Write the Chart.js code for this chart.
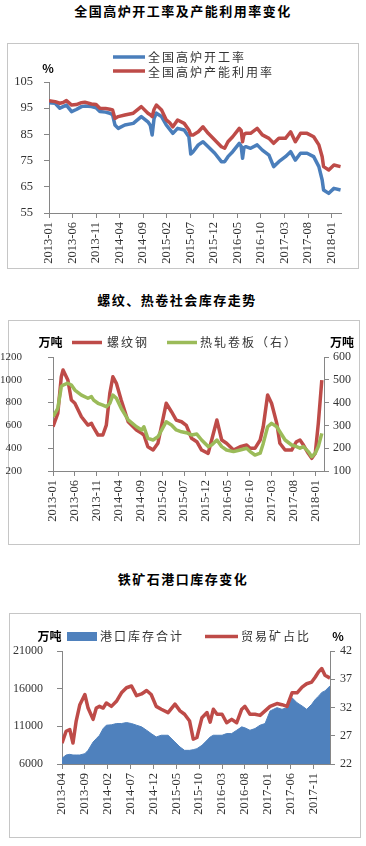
<!DOCTYPE html>
<html>
<head>
<meta charset="utf-8">
<script src="https://cdn.jsdelivr.net/npm/chart.js@4.4.1/dist/chart.umd.min.js"></script>
<style>
body{margin:0;width:366px;height:846px;background:#fff;position:relative;overflow:hidden;font-family:"Noto Sans CJK SC",sans-serif;}
.title{position:absolute;left:0;width:366px;text-align:center;font-weight:bold;font-size:13px;letter-spacing:1.5px;color:#000;line-height:16px;}
.frame{position:absolute;border:1px solid #c6c6c6;}
canvas{position:absolute;left:0;}
</style>
</head>
<body>
<div class="title" style="top:3px">全国高炉开工率及产能利用率变化</div>
<div class="frame" style="left:7px;top:43px;width:350px;height:224px"></div>
<canvas id="chart1" width="366" height="224" style="top:44px"></canvas>

<div class="title" style="top:292px;left:-6px">螺纹、热卷社会库存走势</div>
<div class="frame" style="left:8px;top:320px;width:350px;height:223px"></div>
<canvas id="chart2" width="366" height="223" style="top:321px"></canvas>

<div class="title" style="top:571px">铁矿石港口库存变化</div>
<div class="frame" style="left:9px;top:613px;width:350px;height:223px"></div>
<canvas id="chart3" width="366" height="223" style="top:614px"></canvas>

<script>
// ---- 图1: 全国高炉开工率 / 产能利用率 (月序号, 0 = 2013-01)
var months1 = [0,1.3,2.3,3,3.7,4.8,5.8,6.9,7.6,9,
  10,10.8,12,12.9,13.5,14,14.7,16.1,17.9,19.6,
  21,21.5,21.9,22.3,22.8,23.9,24.9,25.6,26.3,27.3,
  28.7,29.7,30.1,30.6,31.7,32.7,33.8,35.2,36.6,37.3,
  38,39,40.4,40.8,41.1,41.4,41.8,42.8,44.2,45.3,
  46.7,47.7,48.8,50.2,51.3,52.3,53.4,54.8,56.2,57.3,
  58,58.3,59.4,60.5,61.9]
var kaigonglv = [97.1,96.9,95.0,95.6,96.2,93.7,94.5,95.6,95.8,95.6,
  95.2,93.7,93.5,93.1,92.5,88.6,87.3,88.6,89.2,91.8,
  89.8,88.5,84.8,91.0,93.1,91.8,88.6,87.0,85.4,87.3,
  86.7,84.1,77.5,78.4,81.0,82.2,80.3,77.8,74.6,74.6,
  76.5,78.4,81.6,80.5,75.9,80.0,80.3,79.7,81.0,79.0,
  77.1,72.7,74.6,76.5,78.4,75.2,77.8,77.8,76.5,72.7,
  67.6,63.8,62.5,64.4,63.8]
var channeng = [97.9,97.5,96.9,97.2,97.9,96.2,96.4,97.1,97.3,96.6,
  96.4,95.0,94.9,94.6,94.3,91.1,91.8,92.4,93.1,95.6,
  93.1,92.5,91.8,94.5,96.2,94.3,90.5,89.5,87.9,90.5,
  89.2,86.7,84.8,84.8,86.0,87.9,85.4,82.9,80.3,79.7,
  82.2,84.1,87.3,86.5,82.2,85.0,85.4,85.4,87.3,84.8,
  83.5,81.6,83.5,83.5,86.0,82.2,85.4,85.4,84.1,81.0,
  76.5,72.7,71.4,73.3,72.7]

// ---- 图2: 螺纹钢 / 热轧卷板 社会库存 (月序号, 0 = 2013-01)
var months2 = [0,1.1,1.9,2.3,3.4,4.2,5.0,6.5,8.0,8.8,
  9.3,10.3,11.4,12.2,13.0,13.7,14.5,15.6,17.2,19.1,
  20.3,20.8,21.7,22.9,24.0,25.9,27.1,28.2,29.4,30.5,
  31.7,32.9,34.0,35.5,36.3,37.5,38.6,39.7,41.3,42.8,
  44.3,45.1,46.2,47.4,48.1,49.1,50.0,51.2,51.9,53.1,
  54.6,55.7,56.5,57.3,58.4,59.2,60.0,60.7,61.5]
var luowengang = [588,706,1027,1086,998,823,794,676,603,618,
  580,516,516,603,881,1027,969,823,632,559,
  530,516,413,384,443,794,720,647,632,600,
  487,457,384,355,472,647,472,443,384,413,
  428,399,399,472,588,867,794,618,443,384,
  384,457,472,428,355,311,355,618,998]
var rezhajuanban = [338,375,470,477,485,477,455,433,419,426,
  411,397,389,382,397,433,419,375,324,294,
  280,294,243,236,250,316,302,280,272,268,
  258,262,236,207,214,236,207,192,185,192,
  200,185,170,178,221,294,309,294,272,236,
  214,207,200,207,185,163,178,207,265]

// ---- 图3: 港口库存合计 / 贸易矿占比 (月序号, 0 = 2013-04)
var months3 = [0,0.9,1.7,2.4,3.1,3.9,5.0,5.7,6.8,7.5,
  8.2,9.0,9.7,10.8,11.9,13.0,14.1,15.2,16.3,17.4,
  18.5,19.5,20.6,21.7,23.2,24.7,25.8,26.8,27.9,28.7,
  29.5,30.6,31.7,32.4,33.1,33.9,35.0,36.0,37.1,38.2,
  39.3,40.0,41.1,42.2,43.3,44.4,45.5,47.0,48.1,49.2,
  50.3,51.4,52.5,53.5,54.6,55.4,56.1,56.8,57.5,58.6]
var gangkoukucun = [6756,7194,7283,7194,7194,7194,7372,7814,8920,9370,
  9815,10700,11150,11200,11370,11370,11500,11370,11150,10930,
  10480,10040,9590,9815,9815,8920,8257,7814,7814,7900,
  8035,8478,9141,9590,9815,9815,9815,10040,10040,10480,
  10930,10800,10480,10700,11150,11370,13040,13480,13260,13480,
  14800,14130,13700,13260,13920,14600,15000,15500,15700,16370]
var maoyikuang = [25.7,27.8,28.1,25.7,29.6,32.5,34.3,31.9,29.9,31.9,
  32.2,31.9,32.8,32.2,33.1,34.6,35.5,35.8,34.1,34.4,
  35.0,34.3,32.2,31.7,31.1,32.6,31.4,30.8,29.6,26.4,
  26.7,30.2,31.1,29.4,31.7,30.8,30.8,29.3,29.9,29.3,
  31.7,32.2,30.8,30.8,30.6,31.4,32.2,32.7,32.5,32.2,
  34.6,34.6,35.6,36.2,36.5,37.4,38.3,38.9,37.7,37.2]

var axisColor = '#868686'
var tickFont = { family: 'Liberation Serif', size: 12.5 }
var textColor = '#333'

function pts(xs, ys) {
  return xs.map(function (m, i) { return { x: m, y: ys[i] } })
}

function monthLabel(startYear, startMonth) {
  return function (v) {
    var t = startYear * 12 + startMonth - 1 + v
    var y = Math.floor(t / 12)
    var m = t % 12 + 1
    return y + '-' + (m < 10 ? '0' + m : m)
  }
}

function xAxis(maxV, startYear, startMonth, h) {
  return {
    type: 'linear', min: 0, max: maxV,
    border: { color: axisColor },
    grid: { drawOnChartArea: false, color: axisColor, tickLength: 5 },
    ticks: {
      stepSize: 5, includeBounds: false, autoSkip: false,
      minRotation: 90, maxRotation: 90, padding: 4,
      font: tickFont, color: textColor,
      callback: monthLabel(startYear, startMonth)
    },
    afterFit: function (s) { s.height = h }
  }
}

function yAxis(pos, min, max, step, w, pad, size) {
  return {
    type: 'linear', position: pos, min: min, max: max,
    border: { color: axisColor },
    grid: { drawOnChartArea: false, color: axisColor, tickLength: 5 },
    ticks: {
      stepSize: step, padding: pad, color: textColor,
      font: { family: 'Liberation Serif', size: size },
      callback: function (v) { return String(v) }
    },
    afterFit: function (s) { s.width = w }
  }
}

// 自己画图例和单位
function legendPlugin(items) {
  return {
    id: 'legendDraw',
    afterDraw: function (chart) {
      var ctx = chart.ctx
      ctx.save()
      items.forEach(function (it) {
        if (it.kind == 'line') {
          ctx.strokeStyle = it.color
          ctx.lineWidth = 3.5
          ctx.beginPath()
          ctx.moveTo(it.x1, it.y)
          ctx.lineTo(it.x2, it.y)
          ctx.stroke()
        } else if (it.kind == 'box') {
          ctx.fillStyle = it.color
          ctx.fillRect(it.x, it.y, it.w, it.h)
        } else {
          ctx.fillStyle = it.bold ? '#000' : textColor
          ctx.font = (it.bold ? 'bold ' : '') + '12px "Noto Sans CJK SC"'
          ctx.letterSpacing = it.bold ? '0px' : '2px'
          ctx.textAlign = it.align || 'left'
          ctx.textBaseline = 'middle'
          ctx.fillText(it.text, it.x, it.y)
        }
      })
      ctx.restore()
    }
  }
}

var blue = '#4a7ebb'
var red = '#be4b48'
var green = '#9bbb59'

function lineSet(label, data, color, order, axis) {
  return {
    label: label, data: data, borderColor: color, backgroundColor: color,
    borderWidth: 3.5, pointRadius: 0, tension: 0, order: order,
    borderJoinStyle: 'round', yAxisID: axis || 'y'
  }
}

// 图1
new Chart(document.getElementById('chart1'), {
  type: 'line',
  data: {
    datasets: [
      lineSet('全国高炉开工率', pts(months1, kaigonglv), blue, 1),
      lineSet('全国高炉产能利用率', pts(months1, channeng), red, 0)
    ]
  },
  options: {
    responsive: false, animation: false, devicePixelRatio: 1,
    layout: { padding: { top: 38, right: 25, left: 0, bottom: 0 } },
    plugins: { legend: { display: false }, tooltip: { enabled: false } },
    scales: {
      x: xAxis(62, 2013, 1, 55),
      y: yAxis('left', 55, 105, 10, 49, 11, 12.5)
    }
  },
  plugins: [legendPlugin([
    { kind: 'line', x1: 113, x2: 145, y: 13, color: blue },
    { kind: 'text', x: 148, y: 13.5, text: '全国高炉开工率' },
    { kind: 'line', x1: 113, x2: 145, y: 27, color: red },
    { kind: 'text', x: 148, y: 28, text: '全国高炉产能利用率' },
    { kind: 'text', x: 48, y: 24, text: '%', bold: true, align: 'center' }
  ])]
})

// 图2
new Chart(document.getElementById('chart2'), {
  type: 'line',
  data: {
    datasets: [
      lineSet('螺纹钢', pts(months2, luowengang), red, 1, 'y'),
      lineSet('热轧卷板（右）', pts(months2, rezhajuanban), green, 0, 'y1')
    ]
  },
  options: {
    responsive: false, animation: false, devicePixelRatio: 1,
    layout: { padding: { top: 36, right: 0, left: 0, bottom: 0 } },
    plugins: { legend: { display: false }, tooltip: { enabled: false } },
    scales: {
      x: xAxis(62, 2013, 1, 73),
      y: yAxis('left', 200, 1200, 200, 53, 26, 11),
      y1: yAxis('right', 100, 600, 100, 42, 4, 12)
    }
  },
  plugins: [legendPlugin([
    { kind: 'text', x: 50.5, y: 21, text: '万吨', bold: true, align: 'center' },
    { kind: 'line', x1: 72, x2: 102, y: 21.5, color: red },
    { kind: 'text', x: 107, y: 21.5, text: '螺纹钢' },
    { kind: 'line', x1: 167, x2: 197, y: 21.5, color: green },
    { kind: 'text', x: 200, y: 21.5, text: '热轧卷板（右）' },
    { kind: 'text', x: 342, y: 21, text: '万吨', bold: true, align: 'center' }
  ])]
})

// 图3
new Chart(document.getElementById('chart3'), {
  type: 'line',
  data: {
    datasets: [
      {
        label: '港口库存合计', data: pts(months3, gangkoukucun),
        borderColor: '#4f81bd', backgroundColor: '#4f81bd', borderWidth: 1,
        pointRadius: 0, tension: 0, fill: 'start', order: 1, yAxisID: 'y'
      },
      lineSet('贸易矿占比', pts(months3, maoyikuang), red, 0, 'y1')
    ]
  },
  options: {
    responsive: false, animation: false, devicePixelRatio: 1,
    layout: { padding: { top: 37, right: 0, left: 0, bottom: 0 } },
    plugins: { legend: { display: false }, tooltip: { enabled: false } },
    scales: {
      x: xAxis(58.6, 2013, 4, 73),
      y: yAxis('left', 6000, 21000, 5000, 62, 14, 12),
      y1: yAxis('right', 22, 42, 5, 36, 5, 12)
    }
  },
  plugins: [legendPlugin([
    { kind: 'text', x: 49.5, y: 22, text: '万吨', bold: true, align: 'center' },
    { kind: 'box', x: 67, y: 18, w: 30, h: 9, color: '#4f81bd' },
    { kind: 'text', x: 100, y: 22.5, text: '港口库存合计' },
    { kind: 'line', x1: 205, x2: 238, y: 22.5, color: red },
    { kind: 'text', x: 241, y: 22.5, text: '贸易矿占比' },
    { kind: 'text', x: 338, y: 22, text: '%', bold: true, align: 'center' }
  ])]
})
</script>
</body>
</html>
